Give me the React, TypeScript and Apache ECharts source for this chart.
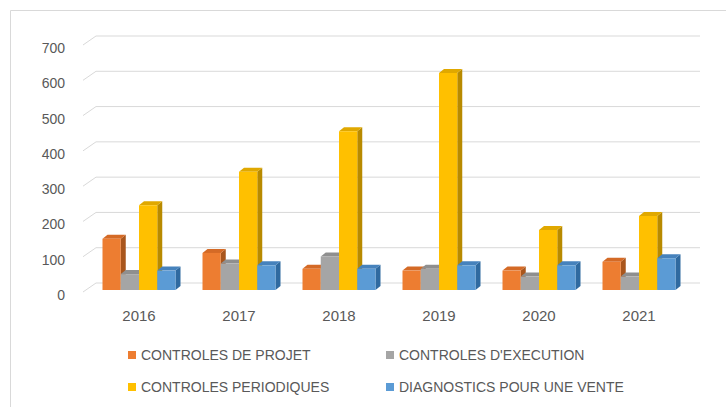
import React, { useEffect, useRef } from "react";
import * as echarts from "echarts";

const categories = ["2016", "2017", "2018", "2019", "2020", "2021"];
const yTicks = [0, 100, 200, 300, 400, 500, 600, 700];
const seriesNames = [
  "CONTROLES DE PROJET",
  "CONTROLES D'EXECUTION",
  "CONTROLES PERIODIQUES",
  "DIAGNOSTICS POUR UNE VENTE",
];
const projet = [145, 105, 60, 55, 55, 80];
const execution = [45, 75, 95, 60, 38, 38];
const periodiques = [240, 335, 450, 615, 170, 210];
const diagnostics = [55, 70, 60, 70, 70, 90];

const allValues = [projet, execution, periodiques, diagnostics];
const faces = [
  { front: "#ED7D31", side: "#A9561D", top: "#D46A26" },
  { front: "#A5A5A5", side: "#767676", top: "#8F8F8F" },
  { front: "#FFC000", side: "#B88A00", top: "#E0A800" },
  { front: "#5B9BD5", side: "#2F6AA0", top: "#4682BC" },
];

const DX = 5;
const DY = 4;
const GROUP_RATIO = 0.73;
const FONT = "'Liberation Sans', Arial, sans-serif";
const TEXT = "#595959";

export default function App() {
  const ref = useRef<HTMLDivElement>(null);
  useEffect(() => {
    if (!ref.current) return;
    const chart = echarts.init(ref.current, null, { renderer: "svg" });

    const barSeries = allValues.map((vals, s) => ({
      type: "custom",
      name: seriesNames[s],
      itemStyle: { color: faces[s].front },
      data: vals.map((v, i) => [i, v]),
      renderItem: (params: any, api: any) => {
        const cat = api.value(0);
        const val = api.value(1);
        const top = api.coord([cat, val]);
        const base = api.coord([cat, 0]);
        const band = api.size([1, 0])[0];
        const bw = (band * GROUP_RATIO) / 4;
        const x0 = top[0] - 2 * bw + s * bw;
        const yT = top[1];
        const yB = base[1];
        const c = faces[s];
        return {
          type: "group",
          children: [
            {
              type: "polygon",
              shape: {
                points: [
                  [x0 + bw, yT],
                  [x0 + bw + DX, yT - DY],
                  [x0 + bw + DX, yB - DY],
                  [x0 + bw, yB],
                ],
              },
              style: { fill: c.side },
            },
            {
              type: "polygon",
              shape: {
                points: [
                  [x0, yT],
                  [x0 + DX, yT - DY],
                  [x0 + bw + DX, yT - DY],
                  [x0 + bw, yT],
                ],
              },
              style: { fill: c.top },
            },
            {
              type: "rect",
              shape: { x: x0, y: yT, width: bw, height: yB - yT },
              style: { fill: c.front },
            },
          ],
        };
      },
    }));

    const wallSeries = {
      type: "custom",
      name: "walls",
      silent: true,
      data: yTicks.map((v) => [0, v]),
      renderItem: (params: any, api: any) => {
        const cs = params.coordSys;
        const y = api.coord([0, api.value(1)])[1];
        return {
          type: "polyline",
          shape: {
            points: [
              [cs.x - 6, y + 2],
              [cs.x + 7, y - 7],
              [cs.x + cs.width + 11, y - 7],
            ],
          },
          style: { stroke: "#D9D9D9", lineWidth: 1, fill: null },
        };
      },
    };

    const legendPos = [
      { left: 123, top: 343 },
      { left: 381, top: 343 },
      { left: 123, top: 375 },
      { left: 381, top: 375 },
    ];

    chart.setOption({
      animation: false,
      backgroundColor: "#ffffff",
      textStyle: { fontFamily: FONT },
      graphic: [
        {
          type: "rect",
          shape: { x: 10.5, y: 10.5, width: 760, height: 440 },
          style: { fill: "none", stroke: "#D9D9D9", lineWidth: 1 },
          silent: true,
        },
      ],
      grid: { left: 89, right: 37, top: 43, bottom: 117 },
      xAxis: {
        type: "category",
        data: categories,
        axisLine: { show: false },
        axisTick: { show: false },
        axisLabel: {
          margin: 18,
          color: TEXT,
          fontSize: 15,
          fontFamily: FONT,
        },
      },
      yAxis: {
        type: "value",
        min: 0,
        max: 700,
        interval: 100,
        splitLine: { show: false },
        axisLine: { show: false },
        axisTick: { show: false },
        axisLabel: {
          margin: 24,
          color: TEXT,
          fontSize: 14,
          fontFamily: FONT,
          verticalAlign: "top",
          lineHeight: 10,
        },
      },
      legend: seriesNames.map((n, i) => ({
        left: legendPos[i].left,
        top: legendPos[i].top,
        itemWidth: 8,
        itemHeight: 8,
        itemGap: 5,
        icon: "rect",
        selectedMode: false,
        textStyle: { color: TEXT, fontSize: 14, fontFamily: FONT },
        data: [{ name: n, itemStyle: { color: faces[i].front } }],
      })),
      series: [wallSeries, ...barSeries],
    });
    return () => chart.dispose();
  }, []);
  return (
    <div
      ref={ref}
      style={{ position: "absolute", left: 0, top: 0, width: 726, height: 407 }}
    />
  );
}
